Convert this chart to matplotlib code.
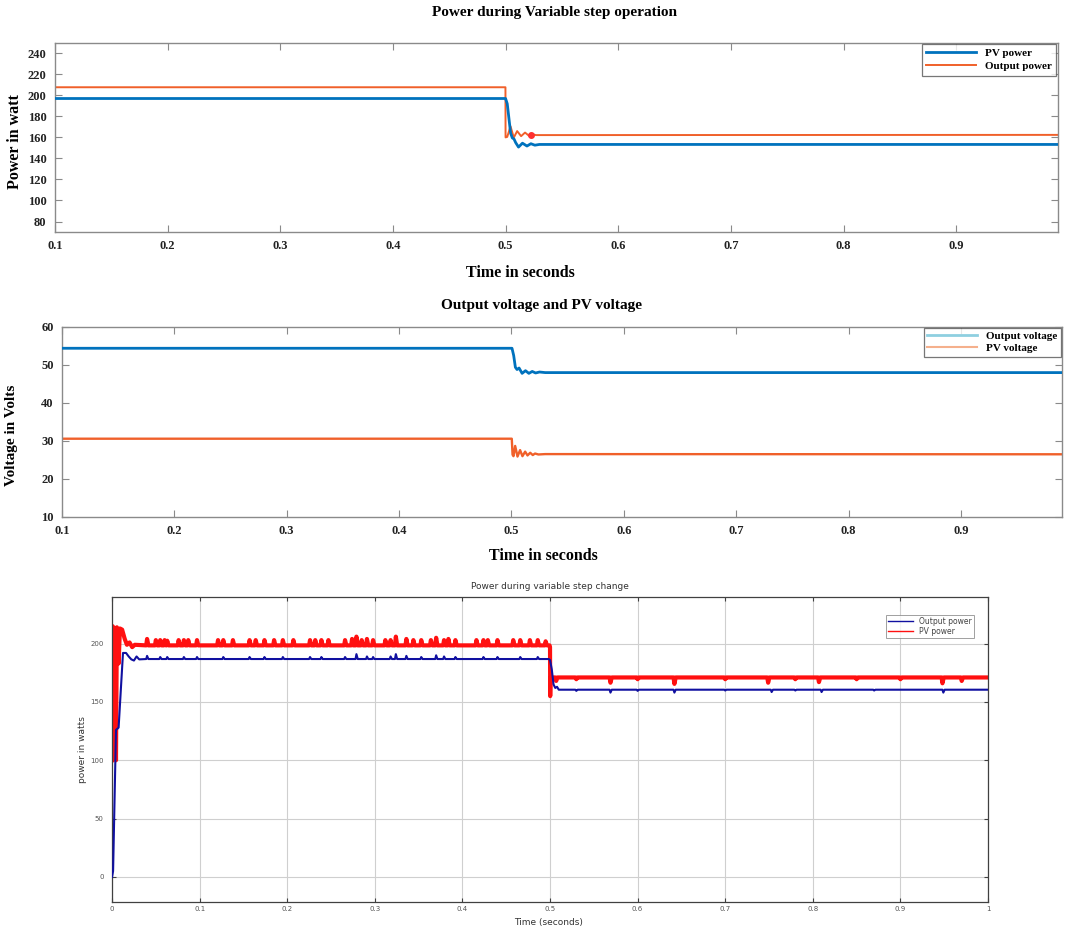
import matplotlib
matplotlib.use("Agg")
import matplotlib.pyplot as plt
import numpy as np

# ---------------- data ----------------
# Panel 1: Power during Variable step operation
p1_pv_t = [0.1, 0.5, 0.5015, 0.503, 0.5045, 0.506, 0.5075, 0.509, 0.5115, 0.515, 0.519, 0.5225, 0.526, 0.53, 0.99]
p1_pv_v = [197, 197, 192, 178, 164, 159.5, 158.5, 155, 150.8, 154.5, 151.8, 154, 152.6, 153.3, 153.3]
p1_out_t = [0.1, 0.4999, 0.5, 0.5015, 0.5044, 0.5073, 0.5103, 0.5138, 0.5173, 0.5205, 0.523, 0.527, 0.99]
p1_out_v = [207.7, 207.7, 160, 160.5, 170.6, 159.8, 166, 161.2, 164.6, 161.8, 163, 162.2, 162.4]
p1_dot_t = [0.523]
p1_dot_v = [162.6]

# Panel 2: Output voltage and PV voltage
p2_vout_t = [0.1, 0.5005, 0.502, 0.5035, 0.505, 0.5068, 0.5095, 0.5125, 0.5155, 0.5185, 0.5215, 0.525, 0.53, 0.99]
p2_vout_v = [54.4, 54.4, 52.5, 49.4, 48.8, 49.2, 47.8, 48.5, 47.8, 48.3, 47.9, 48.15, 48.0, 48.0]
p2_vpv_t = [0.1, 0.5003, 0.5010, 0.5018, 0.5033, 0.5054, 0.5077, 0.5098, 0.5122, 0.5143, 0.5167, 0.519, 0.521, 0.524, 0.53, 0.99]
p2_vpv_v = [30.6, 30.6, 26.4, 26.0, 28.7, 25.9, 27.6, 26.0, 27.2, 26.2, 26.9, 26.3, 26.7, 26.45, 26.55, 26.5]

# Panel 3: Power during variable step change
p3_pv_start_t = [0, 0.0006, 0.0025, 0.0045, 0.0055, 0.0068, 0.0075, 0.009, 0.0115, 0.0145, 0.017, 0.02, 0.023, 0.026]
p3_pv_start_v = [100, 215, 213, 100, 214, 195, 183, 213, 212, 204, 199, 201, 197, 199]
p3_pv_base1 = 198.5
p3_pv_spike_t = [0.040, 0.050, 0.055, 0.060, 0.063, 0.076, 0.082, 0.087, 0.097, 0.121, 0.127, 0.138,
                 0.157, 0.164, 0.174, 0.185, 0.195, 0.207, 0.226, 0.232, 0.239, 0.247, 0.266, 0.274,
                 0.279, 0.285, 0.291, 0.298, 0.312, 0.318, 0.324, 0.336, 0.344, 0.353, 0.364, 0.370,
                 0.379, 0.384, 0.392, 0.416, 0.424, 0.429, 0.440, 0.458, 0.466, 0.477, 0.486, 0.495]
p3_pv_spike_v = [204, 203, 203, 203, 202.5, 203, 203, 203, 203, 203, 203, 203,
                 203, 203, 203, 203, 203, 203, 203, 203, 203, 203, 203, 204,
                 206, 203, 204, 203, 203, 203, 206, 204, 203, 203, 203, 205,
                 203, 204, 203, 203, 203, 203, 203, 203, 203, 203, 203, 202]
p3_pv_step_t = [0.4995, 0.5, 0.5002, 0.5006]
p3_pv_step_v = [198.5, 197, 155, 171]
p3_pv_base2 = 171
p3_pv_dip_t = [0.507, 0.53, 0.569, 0.60, 0.642, 0.70, 0.749, 0.78, 0.807, 0.85, 0.90, 0.948, 0.970]
p3_pv_dip_v = [168, 169.5, 166.5, 169.5, 165.5, 169.5, 166.5, 169.5, 167, 169.5, 169.5, 166, 168]

p3_out_start_t = [0, 0.0012, 0.0045, 0.0075, 0.0125, 0.016, 0.019, 0.022, 0.025, 0.028, 0.031]
p3_out_start_v = [0, 5, 126, 128, 192, 192, 189, 186.5, 185.5, 189, 186.5]
p3_out_base1 = 186.8
p3_out_bump_t = [0.040, 0.055, 0.063, 0.082, 0.097, 0.127, 0.157, 0.174, 0.195, 0.226, 0.239, 0.266,
                 0.279, 0.291, 0.298, 0.318, 0.324, 0.336, 0.353, 0.370, 0.379, 0.392, 0.424, 0.440,
                 0.466, 0.486]
p3_out_bump_v = [189.5, 188.5, 188.5, 188.5, 188.5, 188.5, 188.5, 188.5, 188.5, 188.5, 188.5, 188.5,
                 191, 189, 188.5, 189, 191, 189.5, 188.5, 190, 189, 188.5, 188.5, 188.5,
                 188.5, 188.5]
p3_out_step_t = [0.4985, 0.5, 0.502, 0.504, 0.506, 0.508, 0.510]
p3_out_step_v = [187.5, 186, 178, 165, 162, 163, 160.5]
p3_out_base2 = 160.5
p3_out_dip_t = [0.53, 0.569, 0.60, 0.642, 0.70, 0.753, 0.78, 0.81, 0.87, 0.949]
p3_out_dip_v = [159.5, 158, 159.5, 158, 159.8, 158.5, 159.8, 158.5, 159.8, 158]


def build(start_t, start_v, base, ev_t, ev_v, t_end, lead=0.001, trail=0.0015):
    ts = list(start_t)
    vs = list(start_v)
    for t, v in zip(ev_t, ev_v):
        ts += [t - lead, t, t + trail]
        vs += [base, v, base]
    ts.append(t_end)
    vs.append(base)
    return ts, vs


# ---------------- figure ----------------
fig = plt.figure(figsize=(10.65, 9.3), dpi=100)
serif = ['Liberation Serif', 'DejaVu Serif']
BLUE = '#0072BD'
ORANGE = '#F0602A'
SPINE = '#8a8a8a'


def matlab_axes(ax):
    for s in ax.spines.values():
        s.set_color(SPINE)
        s.set_linewidth(1.0)
    ax.tick_params(direction='in', top=True, right=True, length=5, color=SPINE,
                   labelsize=9, pad=6)
    for lab in ax.get_xticklabels() + ax.get_yticklabels():
        lab.set_fontfamily(serif)
        lab.set_fontweight('bold')
        lab.set_color('#222222')


# Panel 1
ax1 = fig.add_axes([0.0516, 0.7505, 0.9414, 0.2035])
ax1.plot(p1_pv_t, p1_pv_v, color=BLUE, lw=2.0, label='PV power', zorder=3)
ax1.plot(p1_out_t, p1_out_v, color=ORANGE, lw=1.4, label='Output power', zorder=2)
ax1.plot(p1_dot_t, p1_dot_v, 'o', color='#ff3030', ms=4, zorder=4)
ax1.set_xlim(0.1, 0.99)
ax1.set_ylim(70, 250)
ax1.set_xticks(np.arange(0.1, 0.95, 0.1))
ax1.set_xticklabels(['0.1', '0.2', '0.3', '0.4', '0.5', '0.6', '0.7', '0.8', '0.9'])
ax1.set_yticks(np.arange(80, 241, 20))
matlab_axes(ax1)
leg1 = ax1.legend(loc='upper right', borderaxespad=0.1, frameon=True, fancybox=False,
                  prop={'family': serif, 'weight': 'bold', 'size': 8}, handlelength=4.5,
                  borderpad=0.4, labelspacing=0.3)
leg1.get_frame().set_edgecolor('#555555')
leg1.get_frame().set_linewidth(0.9)

fig.text(0.521, 0.987, 'Power during Variable step operation', ha='center', va='center',
         family=serif, weight='bold', size=11)
fig.text(0.489, 0.7065, 'Time in seconds', ha='center', va='center',
         family=serif, weight='bold', size=11.5)
fig.text(0.014, 0.848, 'Power in watt', ha='center', va='center', rotation=90,
         family=serif, weight='bold', size=11.5)

# Panel 2
ax2 = fig.add_axes([0.0582, 0.4441, 0.939, 0.2043])
ax2.plot(p2_vout_t, p2_vout_v, color=BLUE, lw=2.0, zorder=3)
ax2.plot(p2_vpv_t, p2_vpv_v, color=ORANGE, lw=1.7, zorder=2)
h1, = ax2.plot([], [], color='#8ecfe0', lw=2.0, label='Output voltage')
h2, = ax2.plot([], [], color='#f5b08c', lw=1.5, label='PV voltage')
ax2.set_xlim(0.1, 0.99)
ax2.set_ylim(10, 60)
ax2.set_xticks(np.arange(0.1, 0.95, 0.1))
ax2.set_xticklabels(['0.1', '0.2', '0.3', '0.4', '0.5', '0.6', '0.7', '0.8', '0.9'])
ax2.set_yticks(np.arange(10, 61, 10))
matlab_axes(ax2)
leg2 = ax2.legend(handles=[h1, h2], loc='upper right', borderaxespad=0.1, frameon=True,
                  fancybox=False, prop={'family': serif, 'weight': 'bold', 'size': 8},
                  handlelength=4.5, borderpad=0.3, labelspacing=0.2)
leg2.get_frame().set_edgecolor('#555555')
leg2.get_frame().set_linewidth(0.9)

fig.text(0.508, 0.671, 'Output voltage and PV voltage', ha='center', va='center',
         family=serif, weight='bold', size=11)
fig.text(0.51, 0.402, 'Time in seconds', ha='center', va='center',
         family=serif, weight='bold', size=11.5)
fig.text(0.011, 0.532, 'Voltage in Volts', ha='center', va='center', rotation=90,
         family=serif, weight='bold', size=11)

# Panel 3
ax3 = fig.add_axes([0.1052, 0.0301, 0.8225, 0.328])
pv_t1, pv_v1 = build(p3_pv_start_t, p3_pv_start_v, p3_pv_base1, p3_pv_spike_t, p3_pv_spike_v, 0.4995)
pv_t2, pv_v2 = build(p3_pv_step_t[1:], p3_pv_step_v[1:], p3_pv_base2, p3_pv_dip_t, p3_pv_dip_v, 1.0)
out_t1, out_v1 = build(p3_out_start_t, p3_out_start_v, p3_out_base1, p3_out_bump_t, p3_out_bump_v, 0.4985)
out_t2, out_v2 = build(p3_out_step_t[1:], p3_out_step_v[1:], p3_out_base2, p3_out_dip_t, p3_out_dip_v, 1.0)
ax3.plot(pv_t1 + pv_t2, pv_v1 + pv_v2, color='#ff1010', lw=3.0, label='PV power', zorder=2)
ax3.plot(out_t1 + out_t2, out_v1 + out_v2, color='#1010a0', lw=1.5, label='Output power', zorder=3)
ax3.set_xlim(0, 1)
ax3.set_ylim(-21.5, 240)
ax3.set_xticks(np.arange(0, 1.01, 0.1))
ax3.set_xticklabels(['0', '0.1', '0.2', '0.3', '0.4', '0.5', '0.6', '0.7', '0.8', '0.9', '1'])
ax3.set_yticks([0, 50, 100, 150, 200])
ax3.grid(True, color='#cfcfcf', lw=0.8)
for s in ax3.spines.values():
    s.set_color('#404040')
    s.set_linewidth(0.9)
ax3.tick_params(direction='in', top=True, right=True, length=3, color='#404040',
                labelsize=5, labelcolor='#555555')
ax3.tick_params(axis='x', pad=3)
ax3.tick_params(axis='y', pad=6)
handles, labels = ax3.get_legend_handles_labels()
leg3 = ax3.legend([handles[1], handles[0]], [labels[1], labels[0]], loc='upper right',
                  bbox_to_anchor=(0.988, 0.955), frameon=True, fancybox=False,
                  prop={'size': 5.5}, handlelength=3.2, borderpad=0.3, labelspacing=0.15)
leg3.get_frame().set_edgecolor('#888888')
leg3.get_frame().set_linewidth(0.7)
for h in leg3.get_lines():
    h.set_linewidth(1.0)
for txt in leg3.get_texts():
    txt.set_color('#444444')

fig.text(0.516, 0.369, 'Power during variable step change', ha='center', va='center',
         size=6.5, color='#333333')
fig.text(0.515, 0.0085, 'Time (seconds)', ha='center', va='center', size=6.5, color='#333333')
fig.text(0.077, 0.194, 'power in watts', ha='center', va='center', rotation=90,
         size=6.5, color='#333333')

fig.savefig('out.png', dpi=100)
